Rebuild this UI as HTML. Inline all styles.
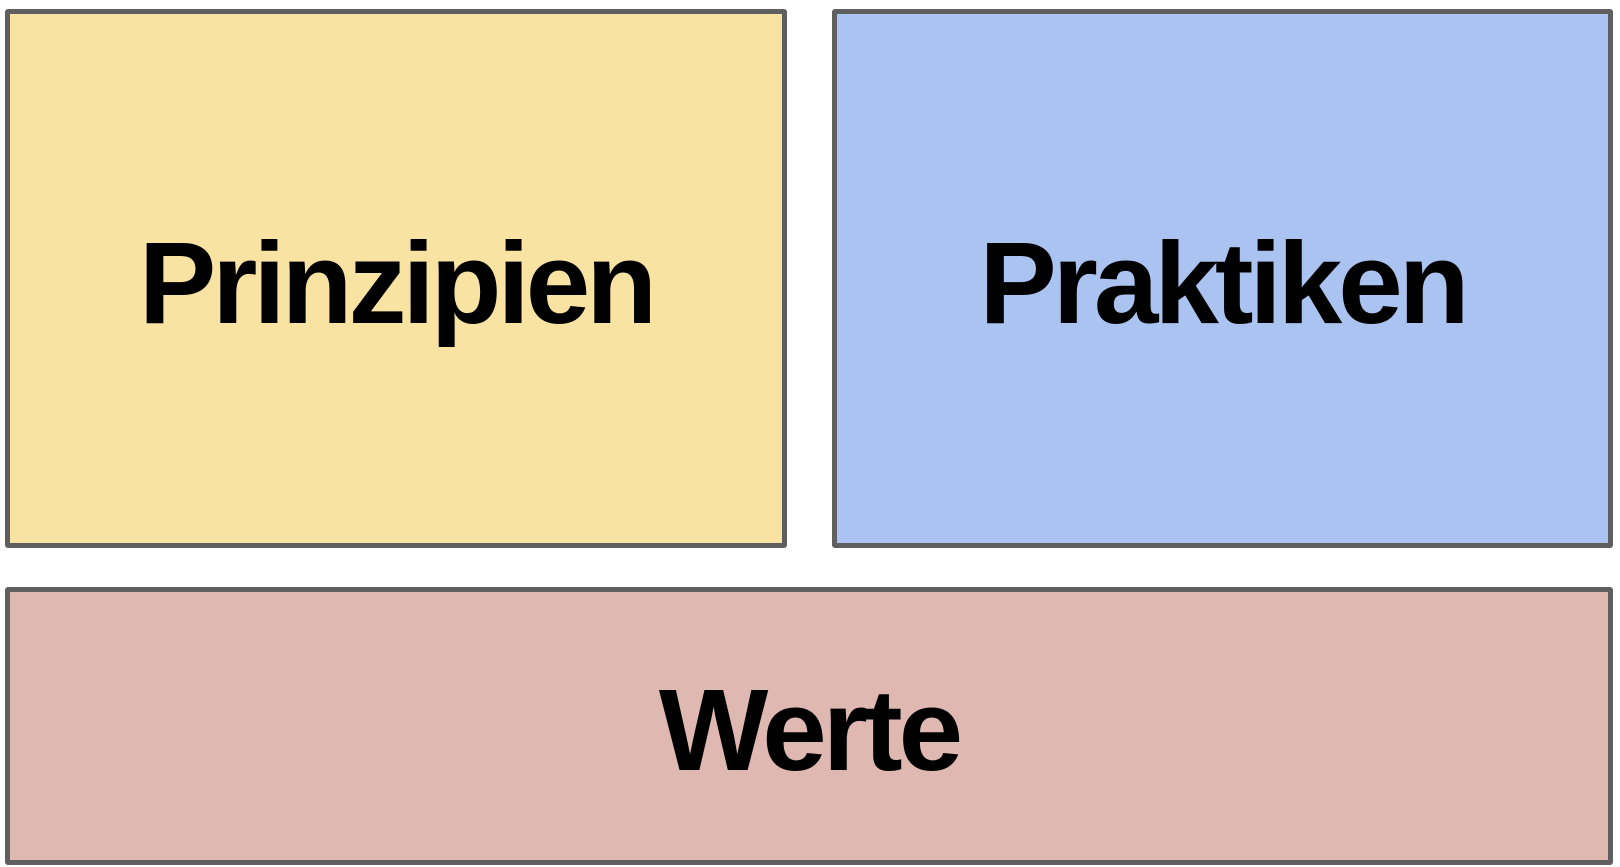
<!DOCTYPE html>
<html><head><style>
html,body{margin:0;padding:0;background:#fff;width:1620px;height:867px;overflow:hidden}
.b{position:absolute;box-sizing:border-box;border:5px solid #5f5f5f;border-radius:3px;font-family:"Liberation Sans",sans-serif;font-weight:bold;font-size:116px;letter-spacing:-4px;color:#000;display:flex;align-items:center;justify-content:center}
</style></head><body>
<div class="b" style="left:5px;top:9px;width:782px;height:539px;background:#f9e3a3"><span style="margin-top:8px">Prinzipien</span></div>
<div class="b" style="left:832px;top:9px;width:781px;height:539px;background:#abc3f0"><span style="margin-top:8px">Praktiken</span></div>
<div class="b" style="left:5px;top:587px;width:1608px;height:278px;background:#dfb9b1"><span style="margin-top:8px">Werte</span></div>
</body></html>
